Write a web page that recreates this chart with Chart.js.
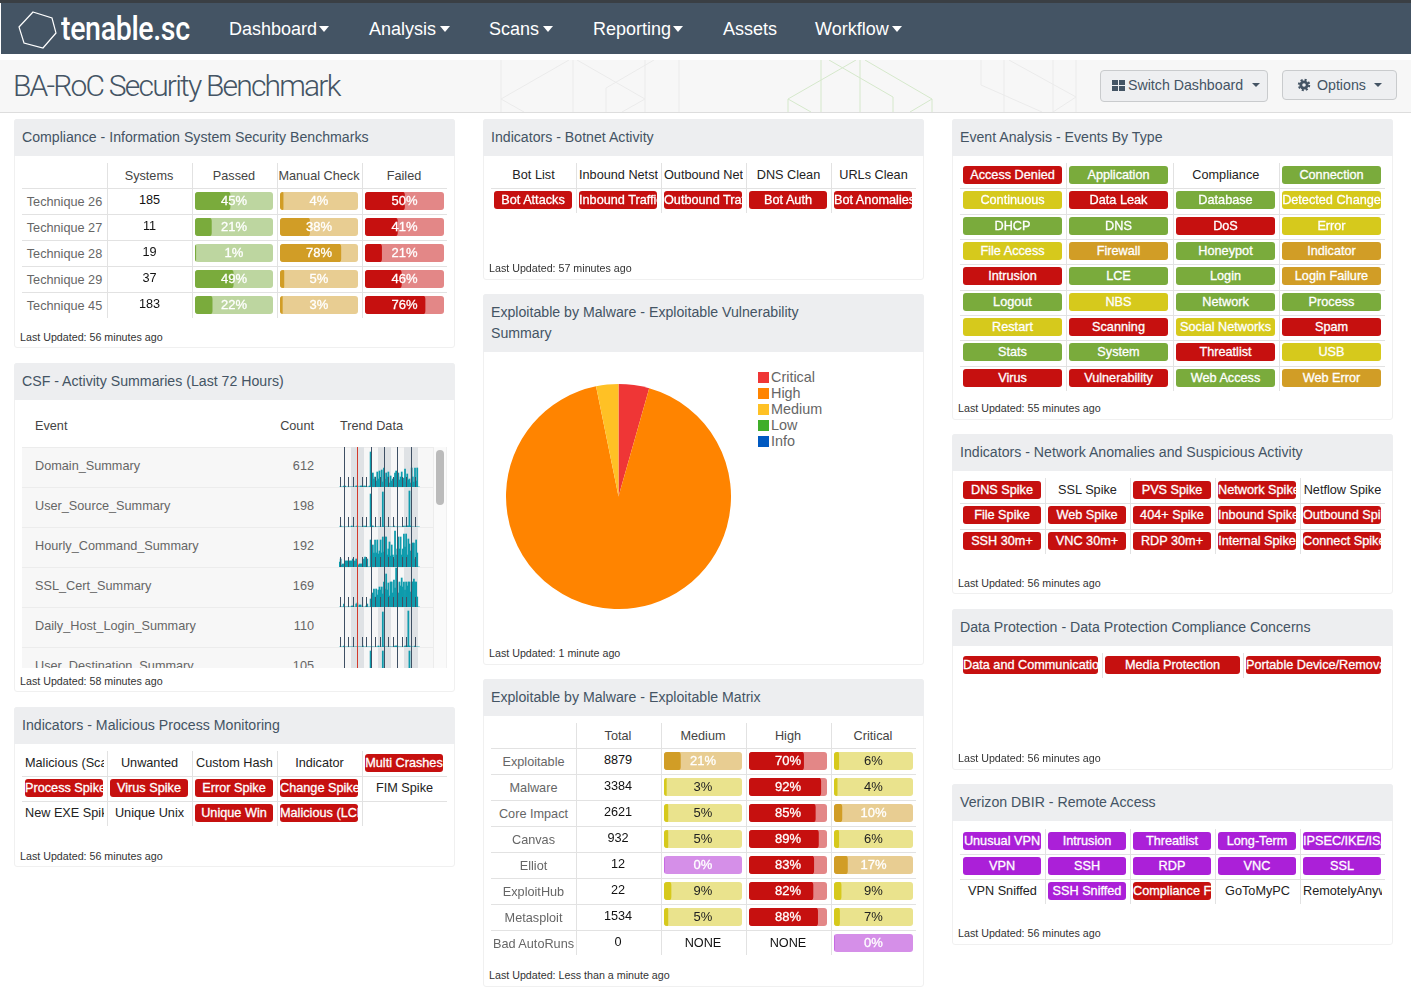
<!DOCTYPE html>
<html>
<head>
<meta charset="utf-8">
<title>BA-RoC Security Benchmark</title>
<script src="https://cdn.jsdelivr.net/npm/chart.js@4"></script>
<style>
html, body { margin: 0; padding: 0; background: #fff; }
body { width: 1411px; height: 1007px; overflow: hidden; position: relative; font-family: "Liberation Sans", Arial, sans-serif; font-size: 12.7px; color: #222; }
.box { position: absolute; box-sizing: border-box; }
.clip { overflow: hidden; white-space: nowrap; }
.panel { background: #fff; border: 1px solid #f0f0f0; border-radius: 3px; }
.phead { background: #edeef0; color: #445464; font-size: 14.15px; border-radius: 3px 3px 0 0; }
.foot { font-size: 10.7px; color: #333; line-height: 14px; white-space: nowrap; }
.line { background: #e2e2e2; }
.cell { text-align: center; overflow: hidden; white-space: nowrap; }
.pill { text-align: center; overflow: hidden; white-space: nowrap; color: #fff; border-radius: 3px; line-height: 18px; -webkit-text-stroke: 0.3px #fff; }
.track { border-radius: 3px; overflow: hidden; }
.track span { position: absolute; left: 0; right: 0; top: 0; text-align: center; line-height: 18px; font-size: 13px; }
.nav { color: #fff; font-size: 18px; line-height: 24px; white-space: nowrap; }
.tri { width: 0; height: 0; position: absolute; border-left: 5.5px solid transparent; border-right: 5.5px solid transparent; border-top: 6px solid #fff; }
.btn { background: #eeeff1; border: 1px solid #c9cbcd; border-radius: 4px; }
canvas { position: absolute; left: 0; top: 0; display: block; }
</style>
</head>
<body>
<script>
// Datos de las tablas
const techniqueRows = ['Technique 26', 'Technique 27', 'Technique 28', 'Technique 29', 'Technique 45'];
const techniqueSystems = [185, 11, 19, 37, 183];
const passedPct = [45, 21, 1, 49, 22];
const manualPct = [4, 38, 78, 5, 3];
const failedPct = [50, 41, 21, 46, 76];

const exploitRows = ['Exploitable', 'Malware', 'Core Impact', 'Canvas', 'Elliot', 'ExploitHub', 'Metasploit', 'Bad AutoRuns'];
const exploitTotals = [8879, 3384, 2621, 932, 12, 22, 1534, 0];
const exploitMedium = [21, 3, 5, 5, 0, 9, 5, null];
const exploitHigh = [70, 92, 85, 89, 83, 82, 88, null];
const exploitCritical = [6, 4, 10, 6, 17, 9, 7, 0];

// Pie
const severityLabels = ['Critical', 'High', 'Medium', 'Low', 'Info'];
const severityValues = [4.4, 92.4, 3.2, 0, 0];
const severityColors = ['#ef3636', '#ff8400', '#ffc125', '#3fae29', '#0059c1'];

// Resumenes de actividad
const activityNames = ['Domain_Summary', 'User_Source_Summary', 'Hourly_Command_Summary', 'SSL_Cert_Summary', 'Daily_Host_Login_Summary', 'User_Destination_Summary'];
const activityCounts = [612, 198, 192, 169, 110, 105];
const trendDomain = [0,0,0,0,1,1,0,0,0,0,0,0,0,0,0,1,1,0,0,1,1,0,1,1,0,0,0,1,
  35,3,14,8,10,6,15,8,16,7,17,5,19,8,14,10,15,4,11,6,8,9,14,16,8,14,7,10,15,6,9,18,5,13,7,8,4,19,10,5,19,6,19,0,0];
const trendUserSource = [0,1,0,0,0,0,0,0,0,0,0,1,0,0,0,0,1,0,0,0,0,1,0,1,0,0,0,0,
  33,1,1,0,0,0,0,0,0,0,0,35,1,0,0,0,0,0,0,0,0,1,0,0,0,0,0,0,0,0,1,0,1,1,1,36,1,0,0,0,0,0,0,0,0];
const trendHourly = [5,8,2,3,3,6,6,6,6,6,6,6,8,6,6,8,2,2,3,3,3,3,8,10,6,8,0,0,
  27,11,22,14,27,14,27,13,16,27,14,30,15,30,30,12,18,25,11,22,12,8,36,12,18,30,18,30,12,18,33,20,33,12,28,23,16,13,24,24,8,27,14,0,0];
const trendSslCert = [0,0,0,0,3,0,0,0,0,0,0,1,1,0,0,3,4,0,2,2,0,0,0,0,1,3,0,0,
  8,12,14,18,10,18,12,17,20,17,20,13,25,18,33,17,24,11,25,25,14,27,19,39,24,14,25,21,29,20,25,17,25,21,25,25,15,25,25,28,25,25,10,0,0];
const trendHostLogin = [0,0,0,0,1,0,0,0,0,0,0,0,0,0,0,0,0,0,0,0,0,1,0,0,0,0,0,0,
  0,0,0,0,0,0,0,1,0,0,0,35,1,0,0,0,0,0,0,0,0,0,1,1,1,0,0,0,0,0,0,1,1,1,36,1,0,0,0,0,1,0,0,0,0];
const trendUserDest = [0,0,0,0,0,0,0,0,0,0,0,0,0,0,0,0,0,0,0,0,0,0,0,0,0,0,0,0,
  36,0,0,0,0,0,0,0,0,0,0,36,0,0,0,0,0,0,0,0,0,0,0,0,0,0,0,0,0,0,0,0,0,0,0,36,0,0,0,0,0,0,0,0,0];
const trendSeries = [trendDomain, trendUserSource, trendHourly, trendSslCert, trendHostLogin, trendUserDest];
const trendHours = trendDomain.map((v, i) => i);

// Marcas de tiempo de las tendencias (en horas)
const trendBands = [[10.3, 22.3], [34.3, 46.3], [58.3, 70.3]];
const trendMajor = [4, 16, 28, 40, 52, 64];
const trendMinor = [0, 4, 8, 12, 16, 20, 24, 28, 32, 36, 40, 44, 48, 52, 56, 60, 64, 68];
const trendNow = 16;

// Indicadores: texto y tono (r, g, y, o, p, o vacio)
const botnetNames = ['Bot List', 'Inbound Netstat', 'Outbound Netstat', 'DNS Clean', 'URLs Clean', 'Bot Attacks', 'Inbound Traffic', 'Outbound Traffic', 'Bot Auth', 'Bot Anomalies'];
const botnetTones = ['', '', '', '', '', 'r', 'r', 'r', 'r', 'r'];
const maliciousNames = ['Malicious (Scan)', 'Unwanted', 'Custom Hash', 'Indicator', 'Multi Crashes', 'Process Spike', 'Virus Spike', 'Error Spike', 'Change Spike', 'FIM Spike', 'New EXE Spike', 'Unique Unix', 'Unique Win', 'Malicious (LCE)', ''];
const maliciousTones = ['', '', '', '', 'r', 'r', 'r', 'r', 'r', '', '', '', 'r', 'r', ''];
const eventNames = ['Access Denied', 'Application', 'Compliance', 'Connection', 'Continuous', 'Data Leak', 'Database', 'Detected Change', 'DHCP', 'DNS', 'DoS', 'Error', 'File Access', 'Firewall', 'Honeypot', 'Indicator', 'Intrusion', 'LCE', 'Login', 'Login Failure', 'Logout', 'NBS', 'Network', 'Process', 'Restart', 'Scanning', 'Social Networks', 'Spam', 'Stats', 'System', 'Threatlist', 'USB', 'Virus', 'Vulnerability', 'Web Access', 'Web Error'];
const eventTones = ['r', 'g', '', 'g', 'y', 'r', 'g', 'y', 'g', 'g', 'r', 'y', 'y', 'o', 'g', 'o', 'r', 'g', 'g', 'o', 'g', 'y', 'g', 'g', 'y', 'r', 'y', 'r', 'g', 'g', 'r', 'y', 'r', 'r', 'g', 'o'];
const anomalyNames = ['DNS Spike', 'SSL Spike', 'PVS Spike', 'Network Spike', 'Netflow Spike', 'File Spike', 'Web Spike', '404+ Spike', 'Inbound Spike', 'Outbound Spike', 'SSH 30m+', 'VNC 30m+', 'RDP 30m+', 'Internal Spike', 'Connect Spike'];
const anomalyTones = ['r', '', 'r', 'r', '', 'r', 'r', 'r', 'r', 'r', 'r', 'r', 'r', 'r', 'r'];
const protectionNames = ['Data and Communications', 'Media Protection', 'Portable Device/Removable'];
const protectionTones = ['r', 'r', 'r'];
const remoteNames = ['Unusual VPN', 'Intrusion', 'Threatlist', 'Long-Term', 'IPSEC/IKE/ISAKMP', 'VPN', 'SSH', 'RDP', 'VNC', 'SSL', 'VPN Sniffed', 'SSH Sniffed', 'Compliance Fail', 'GoToMyPC', 'RemotelyAnywhere'];
const remoteTones = ['p', 'p', 'p', 'p', 'p', 'p', 'p', 'p', 'p', 'p', '', 'p', 'r', '', ''];

// Colores de cada tono
const tones = {
    r: { fill: '#c6100f', light: '#e38787', text: '#fff' },
    g: { fill: '#7aab3c', light: '#bdd6a0', text: '#fff' },
    y: { fill: '#d6c91c', light: '#eae38d', text: '#222' },
    o: { fill: '#d19d26', light: '#e8cd92', text: '#fff' },
    p: { fill: '#ab20d8', light: '#d58fe8', text: '#fff' }
};

const NONE_MSG = 'NONE';
const body = document.body;

function el(parent, cls, x, y, w, h, text) {
    const d = document.createElement('div');
    d.className = 'box ' + cls;
    d.style.left = x + 'px';
    d.style.top = y + 'px';
    if (w !== null) d.style.width = w + 'px';
    if (h !== null) d.style.height = h + 'px';
    if (text !== undefined) d.textContent = text;
    parent.appendChild(d);
    return d;
}

function panel(x, y, w, h, headH, title, foot, footY) {
    el(body, 'panel', x, y, w, h);
    const head = el(body, 'phead', x, y, w, headH);
    const t = el(head, '', 8, 0, headH > 40 ? 330 : w - 16, headH, title);
    t.style.lineHeight = headH > 40 ? '21px' : headH + 'px';
    if (headH > 40) t.style.paddingTop = '8px';
    const f = el(body, 'foot', x + 6, footY - 7, null, 14, foot);
    return f;
}

// Lineas de la tabla
function grid(x, y, colW, rowTops) {
    const cols = Math.round((colW.total) / colW.w);
    const bottom = rowTops[rowTops.length - 1];
    for (let c = 1; c < cols; c++) {
        el(body, 'line', x + c * colW.w, y, 1, bottom - y);
    }
    for (let r = 1; r < rowTops.length - 1; r++) {
        el(body, 'line', x, rowTops[r], colW.total, 1);
    }
}

function textCell(x, y, w, h, text, color, size) {
    const c = el(body, 'cell', x + 3, y, w - 3, h, text);
    c.style.lineHeight = h + 'px';
    c.style.color = color || '#222';
    if (size) c.style.fontSize = size + 'px';
    return c;
}

function pill(x, y, w, text, tone) {
    const p = el(body, 'pill', x, y, w, 18, text);
    p.style.background = tones[tone].fill;
}

function nameGrid(x, y, colW, colCount, rowH, names, toneList) {
    const rows = Math.ceil(names.length / colCount);
    const tops = [];
    for (let r = 0; r <= rows; r++) tops.push(y + r * rowH);
    grid(x, y, { w: colW, total: colW * colCount }, tops);
    names.forEach((name, i) => {
        const cx = x + (i % colCount) * colW;
        const cy = y + Math.floor(i / colCount) * rowH;
        if (toneList[i]) pill(Math.round(cx + 3), Math.round(cy + 3), Math.round(colW - 7), name, toneList[i]);
        else if (name) textCell(cx, Math.round(cy + 1), colW - 3, 22, name, '#222');
    });
}

// Barra de porcentaje dibujada con Chart.js
function meter(x, y, w, pct, tone) {
    const t = tones[tone];
    const track = el(body, 'track', x, y, w, 18);
    track.style.background = t.light;
    const cv = document.createElement('canvas');
    cv.width = w;
    cv.height = 18;
    track.appendChild(cv);
    new Chart(cv, {
        type: 'bar',
        data: { labels: [''], datasets: [{ data: [pct], backgroundColor: t.fill, barPercentage: 1, categoryPercentage: 1, borderRadius: 3, borderSkipped: false }] },
        options: {
            indexAxis: 'y', responsive: false, animation: false, events: [],
            plugins: { legend: { display: false }, tooltip: { enabled: false } },
            scales: { x: { display: false, min: 0, max: 100 }, y: { display: false } }
        }
    });
    const s = document.createElement('span');
    s.textContent = pct + '%';
    s.style.color = t.text;
    if (t.text === '#fff') s.style.webkitTextStroke = '0.3px #fff';
    track.appendChild(s);
}

function exploitTone(pct) {
    if (pct === 0) return 'p';
    if (pct < 10) return 'y';
    if (pct < 50) return 'o';
    return 'r';
}

// Encabezado
function header() {
    el(body, '', 0, 0, 1411, 3).style.background = '#3a3f44';
    el(body, '', 1, 3, 1410, 51).style.background = '#445464';
    el(body, '', 0, 60, 1411, 53).style.cssText += 'background:#f7f7f7;border-bottom:1px solid #ddd;';
    const deco = document.createElementNS('http://www.w3.org/2000/svg', 'svg');
    deco.setAttribute('width', 1411);
    deco.setAttribute('height', 52);
    deco.style.cssText = 'position:absolute;left:0;top:60px;';
    deco.innerHTML = '<g fill="none" stroke="#ebebeb">'
        + '<path d="M501 0V52M573 0V52M645 0V52M679 0V52M569 0L501 39L524 52M577 0L645 39L622 52M654 0L606 28V52"/>'
        + '<path d="M981 0V25L1042 52M1004 0V52M1053 0V52M1076 0V52M1009 0L1076 37L1053 52"/></g>'
        + '<g fill="none" stroke="#d5e8cb"><path d="M821 0V52M860 0V52M856 0L788 39V52M788 39L811 52M865 0L932 39V52M932 39L910 52M829 0L893 37V52"/></g>';
    body.appendChild(deco);

    const logo = document.createElementNS('http://www.w3.org/2000/svg', 'svg');
    logo.setAttribute('width', 60);
    logo.setAttribute('height', 54);
    logo.style.cssText = 'position:absolute;left:0;top:0;';
    logo.innerHTML = '<polygon points="33,12 52,18 56,33 43,48 24,43 19,27" fill="none" stroke="#fff" stroke-width="1.2"/>';
    body.appendChild(logo);
    const brand = el(body, 'nav', 61, 9, null, 40, 'tenable.sc');
    brand.style.cssText += 'font-family:Roboto,sans-serif;font-weight:500;font-size:33px;line-height:40px;letter-spacing:-0.4px;transform:scaleX(0.865);transform-origin:left center;';

    const items = [['Dashboard', 229, 319], ['Analysis', 369, 440], ['Scans', 489, 543], ['Reporting', 593, 673], ['Assets', 723, 0], ['Workflow', 815, 892]];
    items.forEach(it => {
        el(body, 'nav', it[1], 17, null, 24, it[0]);
        if (it[2]) el(body, 'tri', it[2], 26, null, null);
    });

    const title = el(body, '', 13, 66, null, 40, 'BA-RoC Security Benchmark');
    title.style.cssText += 'font-family:Roboto,sans-serif;font-weight:300;font-size:30px;line-height:40px;color:#445464;white-space:nowrap;letter-spacing:-1.8px;';

    el(body, 'btn', 1100, 70, 168, 32);
    [[1112, 80], [1119, 80], [1112, 86], [1119, 86]].forEach(p => {
        el(body, '', p[0], p[1], 6, 5).style.background = '#445464';
    });
    el(body, '', 1128, 77, null, 17, 'Switch Dashboard').style.cssText += 'font-size:14.2px;line-height:17px;color:#445464;white-space:nowrap;';
    const t1 = el(body, 'tri', 1252, 83, null, null);
    t1.style.borderTopColor = '#445464';
    t1.style.borderLeftWidth = t1.style.borderRightWidth = '4px';
    t1.style.borderTopWidth = '4px';

    el(body, 'btn', 1282, 70, 115, 30);
    const gear = document.createElementNS('http://www.w3.org/2000/svg', 'svg');
    gear.setAttribute('width', 14);
    gear.setAttribute('height', 14);
    gear.style.cssText = 'position:absolute;left:1297px;top:78px;';
    gear.innerHTML = '<circle cx="7" cy="7" r="4.6" fill="#445464"/><circle cx="7" cy="7" r="5.2" fill="none" stroke="#445464" stroke-width="2" stroke-dasharray="2.1 1.98"/><circle cx="7" cy="7" r="1.8" fill="#eeeff1"/>';
    body.appendChild(gear);
    el(body, '', 1317, 77, null, 17, 'Options').style.cssText += 'font-size:14.2px;line-height:17px;color:#445464;white-space:nowrap;';
    const t2 = el(body, 'tri', 1374, 83, null, null);
    t2.style.borderTopColor = '#445464';
    t2.style.borderLeftWidth = t2.style.borderRightWidth = '4px';
    t2.style.borderTopWidth = '4px';
}

// 1. Compliance
function compliance() {
    panel(14, 119, 441, 229, 37, 'Compliance - Information System Security Benchmarks', 'Last Updated: 56 minutes ago', 337);
    const x = 22, colW = 85, top = 163;
    const tops = [163, 188, 214, 240, 266, 292, 318];
    grid(x, top, { w: colW, total: colW * 5 }, tops);
    ['Systems', 'Passed', 'Manual Check', 'Failed'].forEach((h, i) => {
        textCell(x + (i + 1) * colW - 2, 164, colW, 24, h, '#444');
    });
    techniqueRows.forEach((name, r) => {
        const y = tops[r + 1];
        textCell(x - 2, y + 2, colW + 1, 25, name, '#666');
        textCell(x + colW, y, colW - 3, 25, techniqueSystems[r], '#111');
        meter(195, y + 4, 78, passedPct[r], 'g');
        meter(280, y + 4, 78, manualPct[r], 'o');
        meter(365, y + 4, 79, failedPct[r], 'r');
    });
}

// Plugin de la tendencia: bandas y marcas por hora
const trendMarks = {
    id: 'trendMarks',
    beforeDatasetsDraw(chart) {
        const { ctx, chartArea, scales } = chart;
        ctx.save();
        ctx.fillStyle = '#dfe2e5';
        trendBands.forEach(b => {
            const a = Math.round(scales.x.getPixelForValue(b[0]));
            const z = Math.round(scales.x.getPixelForValue(b[1]));
            ctx.fillRect(a, chartArea.top, z - a, chartArea.bottom - chartArea.top);
        });
        ctx.restore();
    },
    afterDatasetsDraw(chart) {
        const { ctx, chartArea, scales } = chart;
        ctx.save();
        ctx.lineWidth = 1;
        trendMinor.forEach(h => {
            const px = Math.round(scales.x.getPixelForValue(h)) + 0.5;
            ctx.strokeStyle = '#3f5064';
            ctx.beginPath();
            ctx.moveTo(px, chartArea.bottom);
            ctx.lineTo(px, chartArea.bottom - 10);
            ctx.stroke();
        });
        trendMajor.forEach(h => {
            const px = Math.round(scales.x.getPixelForValue(h)) + 0.5;
            ctx.strokeStyle = h === trendNow ? '#d33a2c' : '#3f5064';
            ctx.beginPath();
            ctx.moveTo(px, chartArea.top);
            ctx.lineTo(px, chartArea.bottom);
            ctx.stroke();
        });
        ctx.restore();
    }
};

// 2. Actividad
function activity() {
    panel(14, 363, 441, 329, 37, 'CSF - Activity Summaries (Last 72 Hours)', 'Last Updated: 58 minutes ago', 681);
    const h = (t, x, w, align) => {
        const d = el(body, '', x, 418, w, 17, t);
        d.style.cssText += 'line-height:17px;color:#444;text-align:' + align + ';white-space:nowrap;';
    };
    h('Event', 35, 100, 'left');
    h('Count', 234, 80, 'right');
    h('Trend Data', 340, 80, 'left');

    const scroll = el(body, 'clip', 22, 447, 411, 221);
    scroll.style.background = '#f7f7f7';
    activityNames.forEach((name, i) => {
        const y = i * 40;
        el(scroll, '', 0, y, 411, 1).style.background = '#ececec';
        const n = el(scroll, '', 13, y, 280, 40, name);
        n.style.cssText += 'line-height:39px;color:#666;';
        const c = el(scroll, '', 212, y, 80, 40, activityCounts[i]);
        c.style.cssText += 'line-height:39px;color:#666;text-align:right;';
        const wrap = el(scroll, '', 317, y, 81, 40);
        const cv = document.createElement('canvas');
        cv.width = 81;
        cv.height = 40;
        wrap.appendChild(cv);
        new Chart(cv, {
            type: 'bar',
            data: { labels: trendHours, datasets: [{ data: trendSeries[i], backgroundColor: '#0e9bac', barPercentage: 1, categoryPercentage: 1 }] },
            options: {
                responsive: false, animation: false, events: [],
                plugins: { legend: { display: false }, tooltip: { enabled: false } },
                scales: { x: { display: false }, y: { display: false, min: 0, max: 40 } }
            },
            plugins: [trendMarks]
        });
    });
    el(body, '', 433, 447, 14, 221).style.cssText += 'background:#fafafa;border-left:1px solid #ececec;border-right:1px solid #f0f0f0;';
    el(body, '', 436, 450, 8, 55).style.cssText += 'background:#bbb;border-radius:4px;';
}

// 3. Procesos
function malicious() {
    panel(14, 707, 441, 160, 37, 'Indicators - Malicious Process Monitoring', 'Last Updated: 56 minutes ago', 856);
    nameGrid(22, 751, 85, 5, 25, maliciousNames, maliciousTones);
}

// 4. Botnet
function botnet() {
    panel(483, 119, 441, 161, 37, 'Indicators - Botnet Activity', 'Last Updated: 57 minutes ago', 268);
    nameGrid(491, 163, 85, 5, 25, botnetNames, botnetTones);
}

// 5. Pie
function severityPie() {
    panel(483, 294, 441, 371, 58, 'Exploitable by Malware - Exploitable Vulnerability Summary', 'Last Updated: 1 minute ago', 653);
    const wrap = el(body, '', 506, 384, 225, 225);
    const cv = document.createElement('canvas');
    cv.width = 225;
    cv.height = 225;
    wrap.appendChild(cv);
    new Chart(cv, {
        type: 'pie',
        data: { labels: severityLabels, datasets: [{ data: severityValues, backgroundColor: severityColors, borderWidth: 0 }] },
        options: {
            responsive: false, animation: false, events: [],
            plugins: { legend: { display: false }, tooltip: { enabled: false } }
        }
    });
    severityLabels.forEach((label, i) => {
        const y = 369 + i * 16;
        el(body, '', 758, y + 3, 11, 11).style.background = severityColors[i];
        const t = el(body, '', 771, y, null, 16, label);
        t.style.cssText += 'font-size:14.4px;line-height:16px;color:#666;white-space:nowrap;';
    });
}

// 6. Matriz
function matrix() {
    panel(483, 679, 441, 308, 37, 'Exploitable by Malware - Exploitable Matrix', 'Last Updated: Less than a minute ago', 975);
    const x = 491, colW = 85, top = 723;
    const tops = [723];
    for (let r = 0; r <= exploitRows.length; r++) tops.push(748 + r * 26);
    tops[tops.length - 1] = 955;
    grid(x, top, { w: colW, total: colW * 5 }, tops);
    ['Total', 'Medium', 'High', 'Critical'].forEach((h, i) => {
        textCell(x + (i + 1) * colW - 2, 724, colW, 24, h, '#444');
    });
    const cols = [exploitMedium, exploitHigh, exploitCritical];
    const meterX = [664, 749, 834];
    exploitRows.forEach((name, r) => {
        const y = tops[r + 1];
        textCell(x - 2, y + 2, colW + 1, 25, name, '#666');
        textCell(x + colW, y, colW - 4, 25, exploitTotals[r], '#111');
        cols.forEach((col, c) => {
            const v = col[r];
            if (v === null) textCell(x + (c + 2) * colW - 2, y + 1, colW, 25, NONE_MSG, '#111');
            else meter(meterX[c], y + 4, c === 2 ? 79 : 78, v, exploitTone(v));
        });
    });
}

// 7-10. Columna derecha
function rightColumn() {
    panel(952, 119, 441, 301, 37, 'Event Analysis - Events By Type', 'Last Updated: 55 minutes ago', 408);
    nameGrid(960, 163, 106.33, 4, 25.33, eventNames, eventTones);
    panel(952, 434, 441, 160, 37, 'Indicators - Network Anomalies and Suspicious Activity', 'Last Updated: 56 minutes ago', 583);
    nameGrid(960, 478, 85, 5, 25.3, anomalyNames, anomalyTones);
    panel(952, 609, 441, 161, 37, 'Data Protection - Data Protection Compliance Concerns', 'Last Updated: 56 minutes ago', 758);
    nameGrid(960, 653, 141.67, 3, 25, protectionNames, protectionTones);
    panel(952, 784, 441, 161, 37, 'Verizon DBIR - Remote Access', 'Last Updated: 56 minutes ago', 933);
    nameGrid(960, 829, 85, 5, 25, remoteNames, remoteTones);
}

header();
compliance();
activity();
malicious();
botnet();
severityPie();
matrix();
rightColumn();
</script>
</body>
</html>
